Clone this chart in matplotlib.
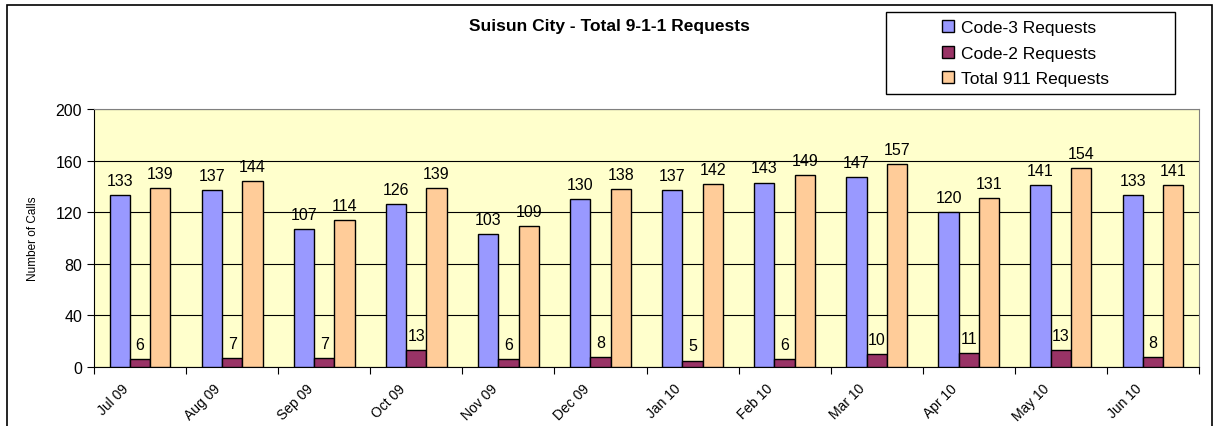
#!/usr/bin/env python
# grouped bar chart: monthly 9-1-1 requests
import numpy as np
import matplotlib.pyplot as plt
from matplotlib.patches import Rectangle

plt.rcParams['font.family'] = ['Liberation Sans', 'DejaVu Sans']

months = ['Jul 09', 'Aug 09', 'Sep 09', 'Oct 09', 'Nov 09', 'Dec 09',
          'Jan 10', 'Feb 10', 'Mar 10', 'Apr 10', 'May 10', 'Jun 10']
code3 = [133, 137, 107, 126, 103, 130, 137, 143, 147, 120, 141, 133]
code2 = [6, 7, 7, 13, 6, 8, 5, 6, 10, 11, 13, 8]
total = [139, 144, 114, 139, 109, 138, 142, 149, 157, 131, 154, 141]

series = [
    ('Code-3 Requests', code3, '#9999FF'),
    ('Code-2 Requests', code2, '#993366'),
    ('Total 911 Requests', total, '#FFCC99'),
]

W, H = 1215, 427
fig = plt.figure(figsize=(W / 100, H / 100), dpi=100)
ax = fig.add_axes([94 / W, 1 - 368 / H, (1199 - 94) / W, (368 - 110) / H])
ax.set_facecolor('#FFFFCC')

# outer chart frame
fig.patches.append(Rectangle((7 / W, -0.05), (1212 - 7) / W, 1 - 6 / H + 0.05,
                             transform=fig.transFigure, fill=False,
                             edgecolor='black', linewidth=1.2, zorder=0))

ind = np.arange(len(months))
bar_width = 0.22
handles = []
for i, (name, vals, color) in enumerate(series):
    rects = ax.bar(ind + (i - 1) * bar_width, vals, bar_width, color=color,
                   edgecolor='black', linewidth=1.0, zorder=3, label=name)
    handles.append(rects)
    for rect in rects:
        h = rect.get_height()
        ax.text(rect.get_x() + rect.get_width() / 2., h + 5.5, '%d' % int(h),
                ha='center', va='bottom', fontsize=11.5, zorder=4)

ax.set_xlim(-0.5, len(months) - 0.5)
ax.set_ylim(0, 200)
ax.set_yticks(np.arange(0, 201, 40))
ax.yaxis.grid(True, color='black', linewidth=0.8, zorder=1)
ax.set_axisbelow(True)
ax.tick_params(axis='y', labelsize=11.5, length=5, width=0.8, direction='out')

# ticks at category boundaries, labels near centres
ax.set_xticks(np.arange(-0.5, len(months), 1.0))
ax.set_xticklabels([])
ax.tick_params(axis='x', length=5, width=0.8, direction='out')
ax.set_xticks(ind - 0.2, minor=True)
ax.set_xticklabels(months, minor=True, rotation=45, ha='right',
                   rotation_mode='anchor', fontsize=10)
ax.tick_params(axis='x', which='minor', length=0, pad=10)

for side in ['top', 'right']:
    ax.spines[side].set_color('#808080')
ax.spines['left'].set_color('black')
ax.spines['bottom'].set_color('black')

ax.set_ylabel('Number of Calls', fontsize=8.5, labelpad=12)
fig.text(609 / W, 1 - 27 / H, 'Suisun City - Total 9-1-1 Requests',
         ha='center', va='center', fontsize=12.5, fontweight='bold')

# legend box drawn separately, entries placed inside it
fig.patches.append(Rectangle((886 / W, 1 - 95 / H), (1175 - 886) / W, (95 - 13) / H,
                             transform=fig.transFigure, facecolor='white',
                             edgecolor='black', linewidth=1.0, zorder=1))
leg = fig.legend(handles=handles, loc='upper left',
                 bbox_to_anchor=(942 / W, 1 - 21 / H), fontsize=12.5,
                 frameon=False, handlelength=0.7, handleheight=0.7,
                 handletextpad=0.4, borderpad=0, labelspacing=0.6,
                 borderaxespad=0)
leg.set_zorder(2)

fig.savefig('out.png', dpi=100)
